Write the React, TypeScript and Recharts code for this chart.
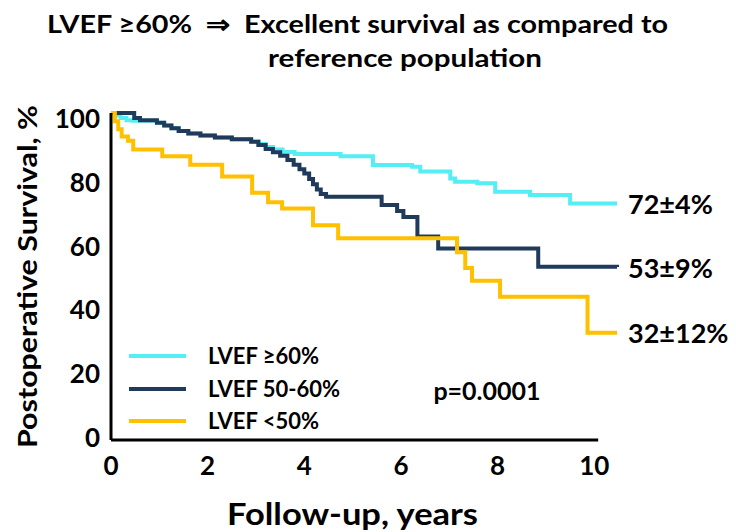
import React from 'react';
import { LineChart, Line, XAxis, YAxis, ReferenceLine, ReferenceDot } from 'recharts';

const seriesNames = ['LVEF ≥60%', 'LVEF 50-60%', 'LVEF <50%'];
const seriesColors = ['#55EEF5', '#203A5C', '#FFC000'];
const endLabels = ['72±4%', '53±9%', '32±12%'];
const xTicks = [0, 2, 4, 6, 8, 10];
const yTicks = [0, 20, 40, 60, 80, 100];

const highTimes = [0, 0.1, 0.2, 0.32, 0.45, 0.95, 1.1, 1.25, 1.4, 1.6, 1.85, 2.15, 2.5, 2.9, 3.05, 3.2, 3.35, 3.55, 3.8, 4.75, 5.42, 6.23, 6.4, 7.02, 7.12, 7.58, 7.95, 8.67, 9.5, 10.47];
const highSurv = [100, 99.2, 98.5, 97.8, 97.6, 97, 96.2, 95.3, 94.5, 93.7, 93.1, 92.5, 92, 91.3, 90.5, 89.6, 88.8, 88.1, 87.5, 86.8, 84.1, 83.6, 82.1, 80, 79, 78.5, 75.9, 74.9, 72.3, 72.3];

const midTimes = [0, 0.48, 0.6, 0.95, 1.1, 1.25, 1.4, 1.6, 1.85, 2.15, 2.5, 2.9, 3.05, 3.2, 3.35, 3.5, 3.65, 3.78, 3.9, 4.0, 4.1, 4.18, 4.26, 4.34, 4.45, 5.6, 5.92, 6.05, 6.34, 6.77, 8.84, 10.47];
const midSurv = [100, 98.5, 97.8, 97, 96.2, 95.3, 94.5, 93.7, 93.1, 92.5, 92, 91.2, 90.2, 89, 88, 86.9, 85.6, 84.2, 82.8, 81.5, 79.8, 78.2, 76.6, 75.2, 74.4, 71.9, 70, 68.2, 62.2, 58.6, 53, 52.9];

const lowTimes = [0, 0.08, 0.15, 0.22, 0.35, 0.46, 1.06, 1.64, 2.3, 2.92, 3.25, 3.54, 4.18, 4.7, 7.16, 7.33, 7.47, 8.05, 9.86, 10.47];
const lowSurv = [100, 97.5, 95, 92.8, 91.5, 88.8, 86.8, 84.2, 80.6, 75.6, 72.7, 70.8, 65.7, 61.7, 57.4, 52.6, 48.7, 43.8, 32.8, 32.8];

const build = (ts: number[], vs: number[]) => ts.map((t, i) => ({ t, v: vs[i] }));
const seriesData = [build(highTimes, highSurv), build(midTimes, midSurv), build(lowTimes, lowSurv)];

const FONT = 'Lato, "Open Sans", sans-serif';
const xMax = highTimes[highTimes.length - 1];

const YTick = (props: any) => {
  const { x, y, payload } = props;
  const adj = -3 + 0.08 * payload.value;
  return (
    <text x={x} y={y + adj} textAnchor="end" dominantBaseline="central" fontFamily={FONT} fontWeight={700} fontSize={26} fill="#000">
      {payload.value}
    </text>
  );
};

const XTick = (props: any) => {
  const { x, y, payload } = props;
  return (
    <text x={x} y={y + 25} textAnchor="middle" dominantBaseline="central" fontFamily={FONT} fontWeight={700} fontSize={26} fill="#000">
      {payload.value}
    </text>
  );
};

export default function App() {
  return (
    <div style={{ position: 'absolute', left: 0, top: 0, width: 736, height: 532, background: '#fff' }}>
      <LineChart width={736} height={532} margin={{ top: 113, right: 119, bottom: 52, left: 51 }}>
        <XAxis
          type="number"
          dataKey="t"
          domain={[0, xMax]}
          ticks={xTicks}
          axisLine={false}
          tickLine={false}
          tickSize={0}
          tickMargin={0}
          height={40}
          tick={<XTick />}
          allowDuplicatedCategory={false}
        />
        <YAxis
          type="number"
          domain={[0, 100]}
          ticks={yTicks}
          width={60}
          axisLine={{ stroke: '#000', strokeWidth: 3 }}
          tickLine={false}
          tickSize={0}
          tickMargin={11}
          tick={<YTick />}
        />
        <ReferenceLine segment={[{ x: 0, y: 0 }, { x: 10.08, y: 0 }]} stroke="#000" strokeWidth={3} ifOverflow="visible" />
        {seriesData.map((d, i) => (
          <Line
            key={seriesNames[i]}
            data={d}
            dataKey="v"
            name={seriesNames[i]}
            type="stepAfter"
            stroke={seriesColors[i]}
            strokeWidth={4}
            dot={false}
            activeDot={false}
            isAnimationActive={false}
          />
        ))}
        {seriesData.map((d, i) => (
          <ReferenceDot
            key={'end' + i}
            x={d[d.length - 1].t}
            y={d[d.length - 1].v}
            r={1}
            fill="none"
            stroke="none"
            ifOverflow="visible"
            label={(p: any) => {
              const vb = p.viewBox || {};
              return (
                <text x={(vb.x ?? 0) + 12} y={(vb.y ?? 0) + 1} dominantBaseline="central" fontFamily={FONT} fontWeight={700} fontSize={27} fill="#000">
                  {endLabels[i]}
                </text>
              );
            }}
          />
        ))}
      </LineChart>
      <div style={{ position: 'absolute', left: 125, top: 340, fontFamily: FONT }}>
        {seriesNames.map((n, i) => (
          <div key={n} style={{ display: 'flex', alignItems: 'center', height: 32.5 }}>
            <div style={{ width: 57, height: 4, background: seriesColors[i], marginLeft: 4 }} />
            <div style={{ marginLeft: 22, fontWeight: 700, fontSize: 22, color: '#000', whiteSpace: 'nowrap', lineHeight: '32px' }}>{n}</div>
          </div>
        ))}
      </div>
      <svg width={736} height={532} style={{ position: 'absolute', left: 0, top: 0, pointerEvents: 'none' }}>
        <text x={47} y={33} fontFamily={FONT} fontWeight={700} fontSize={25} fill="#000" textLength={621} lengthAdjust="spacingAndGlyphs" style={{ whiteSpace: 'pre' }}>
          {'LVEF ≥60%  ⇒  Excellent survival as compared to'}
        </text>
        <text x={268} y={67} fontFamily={FONT} fontWeight={700} fontSize={25} fill="#000" textLength={274} lengthAdjust="spacingAndGlyphs">
          reference population
        </text>
        <text x={227} y={525} fontFamily={FONT} fontWeight={700} fontSize={31} fill="#000" textLength={251} lengthAdjust="spacingAndGlyphs">
          Follow-up, years
        </text>
        <text transform="translate(37,448) rotate(-90)" fontFamily={FONT} fontWeight={700} fontSize={26} fill="#000" textLength={343} lengthAdjust="spacingAndGlyphs">
          Postoperative Survival, %
        </text>
        <text x={487} y={390} textAnchor="middle" dominantBaseline="central" fontFamily={FONT} fontWeight={700} fontSize={25} fill="#000">
          p=0.0001
        </text>
      </svg>
    </div>
  );
}
